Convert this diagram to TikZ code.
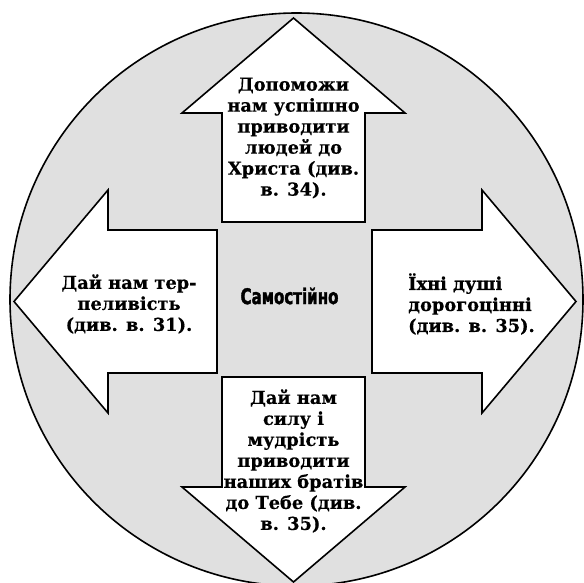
\documentclass[tikz,border=0pt]{standalone}
\usepackage{fontspec}
\setmainfont{DejaVu Serif}[BoldFeatures={FakeBold=0.4}]
\newfontfamily\tsentrfont[FakeStretch=0.7, FakeBold=1.6]{DejaVu Sans}
\definecolor{tlo}{gray}{0.88}

\begin{document}
\begin{tikzpicture}[x=1pt,y=-1pt,
		strilka/.style={draw=black, fill=white, line width=1.6pt, line join=miter},
		napys/.style={font=\bfseries\fontsize{17.8}{21}\selectfont, inner sep=0pt}]
			\useasboundingbox (0,0) rectangle (584,583);
			
			% коло
			\draw[fill=tlo, line width=1.6pt] (296.5,299.5) circle[radius=286.5pt];
			
			% чотири стрілки
			\draw[strilka] (293.5,18) -- (405,113) -- (365,113) -- (365,222) -- (222,222) -- (222,113) -- (182,113) -- cycle;
			\draw[strilka] (14,301.5) -- (108,190) -- (108,230) -- (217,230) -- (217,373) -- (108,373) -- (108,413) -- cycle;
			\draw[strilka] (576,301.5) -- (482,190) -- (482,230) -- (372,230) -- (372,373) -- (482,373) -- (482,413) -- cycle;
			\draw[strilka] (293.5,582) -- (405,487) -- (365,487) -- (365,377) -- (222,377) -- (222,487) -- (182,487) -- cycle;
			
			% написи
			\node[napys, align=center] (vgoru) at (293.5,138) {Допоможи\\нам успішно\\приводити\\людей до\\Христа (див.\\в. 34).};
			\node[napys, align=center] (vlivo) at (129,304) {Дай нам тер-\\пеливість\\(див. в. 31).};
			\node[napys, align=left, anchor=west] (vpravo) at (408,304) {Їхні душі\\дорогоцінні\\(див. в. 35).};
			\node[napys, align=center] (vnyz) at (293.5,461) {Дай нам\\силу і\\мудрість\\приводити\\наших братів\\до Тебе (див.\\в. 35).};
			\node[font=\tsentrfont\bfseries\fontsize{21.5}{24}\selectfont] (tsentr) at (289.5,296) {Самостійно};
	\end{tikzpicture}
\end{document}
